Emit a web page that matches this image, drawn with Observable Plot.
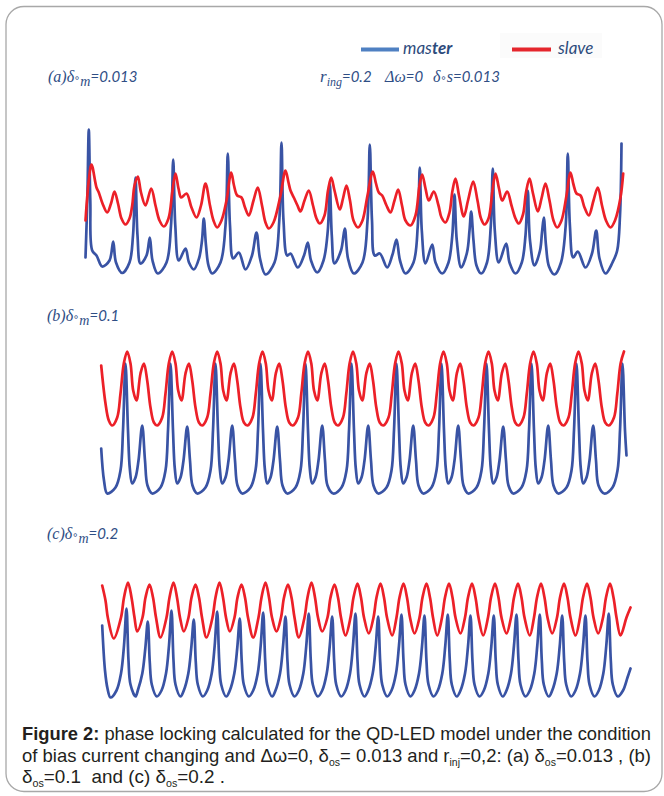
<!DOCTYPE html>
<html><head><meta charset="utf-8">
<script src="https://cdn.jsdelivr.net/npm/d3@7"></script>
<script src="https://cdn.jsdelivr.net/npm/@observablehq/plot@0.6"></script>
<style>
body{margin:0;background:#fff}
#fig{position:relative;width:664px;height:796px;overflow:hidden;background:#fff}
#deco{position:absolute;left:0;top:0}
.lbl{fill:#2f4e85;font-style:italic}
.ser{font-family:"Liberation Serif",serif}
.cal{font-family:Lato,"Open Sans",sans-serif}
.cap{font-family:"Liberation Sans",Arial,sans-serif;font-size:18.5px;fill:#231f20}
</style></head><body>
<div id="fig">
<svg id="deco" width="664" height="796" xmlns="http://www.w3.org/2000/svg">
<rect x="6" y="6.5" width="656" height="785" rx="18" fill="none" stroke="#a8a8a8" stroke-width="1.3"/>
<rect x="500" y="33" width="102" height="25" fill="#fbfbfb"/>
<rect x="361" y="47.5" width="38" height="4" fill="#4f80c2"/>
<text x="403" y="54" class="cal" font-style="italic" font-size="17" fill="#2d4b7c">mas<tspan font-weight="bold">ter</tspan></text>
<rect x="512" y="47.5" width="39" height="4" fill="#e5262d"/>
<text x="558" y="54" class="cal" font-style="italic" font-size="17" fill="#2d4b7c">slave</text>

<text x="48" y="82" class="lbl"><tspan class="ser" font-size="16">(a)δ</tspan><tspan font-size="10" dy="-1" font-family="DejaVu Sans">∘</tspan><tspan class="ser" font-size="14" dy="5">m</tspan><tspan class="cal" font-size="15" dy="-4">=0.013</tspan></text>
<text x="320" y="82" class="lbl"><tspan class="ser" font-size="17">r</tspan><tspan class="ser" font-size="12" dy="4">ing</tspan><tspan class="cal" font-size="15" dy="-4">=0.2</tspan></text>
<text x="385" y="82" class="lbl"><tspan class="ser" font-size="16">Δω</tspan><tspan class="cal" font-size="15">=0</tspan></text>
<text x="433" y="82" class="lbl"><tspan class="ser" font-size="16">δ</tspan><tspan font-size="10" dy="-1" font-family="DejaVu Sans">∘</tspan><tspan class="ser" font-size="16" dy="1">s</tspan><tspan class="cal" font-size="15">=0.013</tspan></text>

<text x="47" y="321" class="lbl"><tspan class="ser" font-size="16">(b)δ</tspan><tspan font-size="10" dy="-1" font-family="DejaVu Sans">∘</tspan><tspan class="ser" font-size="14" dy="5">m</tspan><tspan class="cal" font-size="15" dy="-4">=0.1</tspan></text>
<text x="47" y="539" class="lbl"><tspan class="ser" font-size="16">(c)δ</tspan><tspan font-size="10" dy="-1" font-family="DejaVu Sans">∘</tspan><tspan class="ser" font-size="14" dy="5">m</tspan><tspan class="cal" font-size="15" dy="-4">=0.2</tspan></text>

<text x="22" y="740" class="cap" textLength="629" lengthAdjust="spacingAndGlyphs"><tspan font-weight="bold">Figure 2:</tspan> phase locking calculated for the QD-LED model under the condition</text>
<text x="22" y="761.5" class="cap" textLength="629" lengthAdjust="spacingAndGlyphs">of bias current changing and Δω=0, δ<tspan font-size="10.5" dy="4">os</tspan><tspan dy="-4">= 0.013 and r</tspan><tspan font-size="10.5" dy="4">inj</tspan><tspan dy="-4">=0,2: (a) δ</tspan><tspan font-size="10.5" dy="4">os</tspan><tspan dy="-4">=0.013 , (b)</tspan></text>
<text x="22" y="783" class="cap" textLength="203" lengthAdjust="spacingAndGlyphs" xml:space="preserve">δ<tspan font-size="10.5" dy="4">os</tspan><tspan dy="-4">=0.1  and (c) δ</tspan><tspan font-size="10.5" dy="4">os</tspan><tspan dy="-4">=0.2 .</tspan></text>
</svg>
</div>
<script>
// series names and colours
const seriesNames = ["master", "slave"];
const seriesColors = ["#3953a4", "#ec2028"];

// Panel (a): δm = 0.013  — [time (a.u.), intensity (a.u.)]
const masterA = [[0,.28],[.36,.85],[.66,1.56],[.96,.85],[1.34,.35],[2.2,.30],[3.34,.19],[4.8,.25],[5.54,.44],[6.1,.23],[7.34,.125],[8.8,.23],[9.5,.50],[10.0,1.08],[10.4,.50],[11.0,.22],[12.2,.30],[12.86,.48],[13.4,.25],[14.46,.12],[16.2,.23],[17.1,.60],[17.54,1.26],[17.96,.60],[18.66,.25],[20.0,.37],[20.7,.23],[21.66,.16],[22.7,.27],[23.3,.45],[23.66,.67],[24.1,.40],[24.6,.20],[25.34,.12],[27.0,.23],[28.0,.60],[28.46,1.32],[28.9,.60],[29.54,.27],[30.66,.33],[32.0,.16],[33.3,.30],[34.2,.53],[34.9,.27],[36.0,.11],[37.8,.23],[38.76,.65],[39.2,1.43],[39.6,.65],[40.34,.30],[41.0,.32],[42.46,.18],[43.7,.30],[44.46,.43],[45.1,.25],[46.34,.13],[47.6,.25],[48.46,.55],[48.86,1.02],[49.26,.50],[49.8,.22],[51.1,.35],[51.86,.57],[52.5,.27],[53.66,.12],[55.4,.23],[56.4,.65],[56.86,1.41],[57.3,.65],[57.86,.30],[58.86,.32],[60.34,.18],[61.4,.31],[62.2,.46],[62.9,.25],[64.0,.12],[65.6,.23],[66.46,.60],[66.86,1.18],[67.26,.55],[68.0,.22],[69.34,.41],[70.0,.23],[71.34,.12],[72.6,.23],[73.36,.50],[73.8,.91],[74.26,.45],[75.14,.18],[76.3,.33],[76.8,.55],[77.14,.74],[77.6,.45],[78.2,.20],[79.14,.12],[80.3,.23],[81.06,.60],[81.46,1.17],[81.86,.55],[82.66,.23],[84.14,.42],[84.8,.23],[86.0,.12],[87.26,.23],[88.0,.50],[88.46,.95],[88.9,.45],[89.8,.20],[90.9,.35],[91.3,.53],[91.66,.68],[92.1,.40],[92.7,.19],[93.8,.11],[95.1,.23],[96.04,.60],[96.46,1.32],[96.88,.60],[97.54,.28],[98.46,.34],[100.0,.18],[101.3,.32],[102.14,.55],[102.8,.27],[104.0,.12],[105.4,.23],[106.34,.35],[106.9,.70],[107.2,1.42]];
const slaveA = [[0,.65],[.66,1.05],[1.2,1.21],[2.2,.98],[2.66,.93],[3.4,.82],[4.34,.73],[5.1,.82],[5.8,.94],[6.5,.82],[7.2,.67],[8.0,.61],[8.8,.67],[9.34,.80],[9.8,1.00],[10.46,1.09],[11.1,.93],[12.0,.80],[13.14,.97],[14.0,.80],[14.8,.65],[15.66,.59],[16.6,.67],[17.4,.95],[18.0,1.12],[18.6,.97],[19.14,.88],[20.2,.92],[21.2,.78],[22.2,.68],[23.1,.80],[24.0,1.02],[24.9,.80],[25.6,.65],[26.34,.58],[27.2,.65],[28.2,.85],[29.14,1.13],[29.7,1.00],[30.34,.90],[31.2,.88],[31.9,.78],[32.66,.70],[33.6,.85],[34.46,.98],[35.3,.80],[36.0,.63],[36.66,.57],[37.6,.63],[39.0,.90],[40.0,1.15],[40.6,1.03],[41.0,.95],[41.66,.88],[42.4,.80],[43.0,.74],[43.8,.85],[44.66,.95],[45.5,.80],[46.2,.67],[46.86,.62],[47.8,.70],[48.5,.95],[49.14,1.08],[49.8,.95],[50.86,.76],[51.5,.87],[52.2,1.00],[52.9,.85],[53.6,.65],[54.5,.58],[55.4,.65],[56.4,.90],[57.46,1.14],[58.1,1.02],[58.66,.93],[59.34,.90],[60.2,.80],[61.0,.73],[61.8,.85],[62.54,.96],[63.3,.80],[64.0,.65],[65.0,.60],[66.0,.70],[66.8,1.00],[67.34,1.11],[68.0,.97],[68.66,.85],[69.66,.94],[70.6,.80],[71.2,.68],[72.0,.63],[72.8,.73],[73.4,.95],[74.0,1.07],[74.7,.90],[75.66,.69],[76.5,.85],[77.54,1.04],[78.4,.85],[79.1,.67],[79.8,.61],[80.6,.67],[81.4,.95],[82.0,1.12],[82.7,.97],[83.34,.85],[84.34,.94],[85.2,.80],[86.0,.67],[86.66,.62],[87.5,.71],[88.1,.93],[88.8,1.07],[89.5,.92],[90.46,.74],[91.2,.87],[92.0,1.02],[92.8,.85],[93.6,.65],[94.34,.58],[95.2,.65],[96.2,.90],[97.0,1.13],[97.6,1.01],[98.2,.92],[99.0,.90],[99.8,.78],[100.66,.70],[101.6,.85],[102.46,.98],[103.3,.80],[104.1,.65],[105.0,.58],[105.9,.65],[107.0,.88],[107.54,1.12]];

// Panel (b): δm = 0.1
const masterB = [[3.14,.57],[3.7,.25],[4.34,.12],[6.0,.18],[7.0,.35],[7.5,.75],[8.0,1.42],[8.5,.75],[8.86,.37],[9.34,.22],[10.0,.28],[10.6,.45],[11.34,.80],[11.9,.45],[12.4,.20],[13.34,.12],[15.0,.18],[16.0,.35],[16.5,.75],[17.0,1.42],[17.5,.75],[17.86,.37],[18.34,.22],[19.0,.28],[19.6,.45],[20.34,.79],[20.9,.45],[21.4,.20],[22.34,.12],[24.0,.18],[25.0,.35],[25.5,.75],[26.0,1.42],[26.5,.75],[26.86,.37],[27.34,.22],[28.0,.28],[28.6,.45],[29.34,.80],[29.9,.45],[30.4,.20],[31.34,.12],[33.0,.18],[34.0,.35],[34.5,.75],[35.0,1.42],[35.5,.75],[35.86,.37],[36.34,.22],[37.0,.28],[37.6,.45],[38.34,.79],[38.9,.45],[39.4,.20],[40.34,.12],[42.0,.18],[43.0,.35],[43.5,.75],[44.0,1.42],[44.5,.75],[44.86,.37],[45.34,.22],[46.0,.28],[46.6,.45],[47.34,.80],[47.9,.45],[48.4,.20],[49.54,.12],[51.2,.18],[52.2,.35],[52.7,.75],[53.2,1.42],[53.7,.75],[54.06,.37],[54.54,.22],[55.2,.28],[55.8,.45],[56.54,.80],[57.1,.45],[57.6,.20],[58.54,.12],[60.2,.18],[61.2,.35],[61.7,.75],[62.2,1.42],[62.7,.75],[63.06,.37],[63.54,.22],[64.2,.28],[64.8,.45],[65.54,.80],[66.1,.45],[66.6,.20],[67.54,.12],[69.2,.18],[70.2,.35],[70.7,.75],[71.2,1.42],[71.7,.75],[72.06,.37],[72.54,.22],[73.2,.28],[73.8,.45],[74.54,.80],[75.1,.45],[75.6,.20],[76.54,.12],[78.2,.18],[79.2,.35],[79.7,.75],[80.2,1.42],[80.7,.75],[81.06,.37],[81.54,.22],[82.2,.28],[82.8,.45],[83.54,.79],[84.1,.45],[84.6,.20],[85.54,.12],[87.2,.18],[88.2,.35],[88.7,.75],[89.2,1.42],[89.7,.75],[90.06,.37],[90.54,.22],[91.2,.28],[91.8,.45],[92.54,.80],[93.1,.45],[93.6,.20],[94.54,.12],[96.2,.18],[97.2,.35],[97.7,.75],[98.2,1.42],[98.7,.75],[99.06,.37],[99.54,.22],[100.2,.28],[100.8,.45],[101.54,.80],[102.1,.45],[102.6,.20],[103.74,.12],[105.4,.18],[106.4,.35],[106.9,.75],[107.4,1.42],[107.9,.75],[108.2,.50]];
const slaveB = [[3.14,1.40],[4.0,1.02],[4.66,.85],[5.34,.80],[6.34,.88],[7.0,1.12],[7.66,1.42],[8.34,1.54],[9.0,1.42],[9.54,1.15],[10.2,1.05],[11.0,1.32],[11.68,1.42],[12.34,1.25],[13.0,.98],[13.68,.83],[14.34,.80],[15.34,.88],[16.0,1.12],[16.66,1.42],[17.34,1.54],[18.0,1.42],[18.54,1.15],[19.2,1.05],[20.0,1.32],[20.68,1.42],[21.34,1.25],[22.0,.98],[22.68,.83],[23.34,.80],[24.34,.88],[25.0,1.12],[25.66,1.42],[26.34,1.54],[27.0,1.42],[27.54,1.15],[28.2,1.05],[29.0,1.32],[29.68,1.42],[30.34,1.25],[31.0,.98],[31.68,.83],[32.4,.80],[33.4,.88],[34.06,1.12],[34.72,1.42],[35.4,1.54],[36.06,1.42],[36.6,1.15],[37.26,1.05],[38.06,1.32],[38.74,1.42],[39.4,1.25],[40.06,.98],[40.74,.83],[41.45,.80],[42.5,.88],[43.16,1.12],[43.82,1.42],[44.5,1.54],[45.16,1.42],[45.7,1.15],[46.36,1.05],[47.16,1.32],[47.84,1.42],[48.5,1.25],[49.16,.98],[49.84,.83],[50.5,.80],[51.5,.88],[52.16,1.12],[52.82,1.42],[53.5,1.54],[54.16,1.42],[54.7,1.15],[55.36,1.05],[56.16,1.32],[56.84,1.42],[57.5,1.25],[58.16,.98],[58.84,.83],[59.55,.80],[60.6,.88],[61.26,1.12],[61.92,1.42],[62.6,1.54],[63.26,1.42],[63.8,1.15],[64.46,1.05],[65.26,1.32],[65.94,1.42],[66.6,1.25],[67.26,.98],[67.94,.83],[68.6,.80],[69.6,.88],[70.26,1.12],[70.92,1.42],[71.6,1.54],[72.26,1.42],[72.8,1.15],[73.46,1.05],[74.26,1.32],[74.94,1.42],[75.6,1.25],[76.26,.98],[76.94,.83],[77.6,.80],[78.6,.88],[79.26,1.12],[79.92,1.42],[80.6,1.54],[81.26,1.42],[81.8,1.15],[82.46,1.05],[83.26,1.32],[83.94,1.42],[84.6,1.25],[85.26,.98],[85.94,.83],[86.6,.80],[87.6,.88],[88.26,1.12],[88.92,1.42],[89.6,1.54],[90.26,1.42],[90.8,1.15],[91.46,1.05],[92.26,1.32],[92.94,1.42],[93.6,1.25],[94.26,.98],[94.94,.83],[95.6,.80],[96.6,.88],[97.26,1.12],[97.92,1.42],[98.6,1.54],[99.26,1.42],[99.8,1.15],[100.46,1.05],[101.26,1.32],[101.94,1.42],[102.6,1.25],[103.26,.98],[103.94,.83],[104.65,.80],[105.7,.88],[106.36,1.12],[107.02,1.42],[107.7,1.54]];

// Panel (c): δm = 0.2
const masterC = [[3.34,.85],[3.9,.40],[4.4,.22],[5.0,.13],[6.2,.20],[7.1,.37],[7.7,.65],[8.2,1.02],[8.6,.50],[9.0,.26],[10.0,.14],[10.46,.20],[11.36,.37],[11.96,.62],[12.46,.89],[12.86,.48],[13.26,.26],[14.26,.14],[15.2,.20],[16.1,.37],[16.7,.65],[17.2,1.00],[17.6,.50],[18.0,.26],[19.0,.14],[19.66,.20],[20.56,.37],[21.16,.63],[21.66,.91],[22.06,.48],[22.46,.26],[23.46,.14],[24.34,.20],[25.24,.37],[25.84,.65],[26.34,.99],[26.74,.50],[27.14,.26],[28.14,.14],[28.86,.20],[29.76,.37],[30.36,.63],[30.86,.92],[31.26,.48],[31.66,.26],[32.66,.14],[33.54,.20],[34.44,.37],[35.04,.65],[35.54,.98],[35.94,.50],[36.34,.26],[37.34,.14],[38.0,.20],[38.9,.37],[39.5,.64],[40.0,.94],[40.4,.49],[40.8,.26],[41.8,.14],[42.66,.20],[43.56,.37],[44.16,.65],[44.66,.97],[45.06,.50],[45.46,.26],[46.46,.14],[47.34,.20],[48.24,.37],[48.84,.64],[49.34,.94],[49.74,.49],[50.14,.26],[51.14,.14],[52.0,.20],[52.9,.37],[53.5,.65],[54.0,.97],[54.4,.50],[54.8,.26],[55.8,.14],[56.54,.20],[57.44,.37],[58.04,.64],[58.54,.94],[58.94,.49],[59.34,.26],[60.34,.14],[61.2,.20],[62.1,.37],[62.7,.65],[63.2,.96],[63.6,.50],[64.0,.26],[65.0,.14],[65.8,.20],[66.7,.37],[67.3,.64],[67.8,.95],[68.2,.49],[68.6,.26],[69.6,.14],[70.46,.20],[71.36,.37],[71.96,.65],[72.46,.96],[72.86,.50],[73.26,.26],[74.26,.14],[75.0,.20],[75.9,.37],[76.5,.64],[77.0,.95],[77.4,.49],[77.8,.26],[78.8,.14],[79.66,.20],[80.56,.37],[81.16,.64],[81.66,.95],[82.06,.49],[82.46,.26],[83.46,.14],[84.2,.20],[85.1,.37],[85.7,.65],[86.2,.96],[86.6,.50],[87.0,.26],[88.0,.14],[88.86,.20],[89.76,.37],[90.36,.65],[90.86,.96],[91.26,.50],[91.66,.26],[92.66,.14],[93.34,.20],[94.24,.37],[94.84,.64],[95.34,.95],[95.74,.49],[96.14,.26],[97.14,.14],[98.0,.20],[98.9,.37],[99.5,.64],[100.0,.95],[100.4,.49],[100.8,.26],[101.8,.14],[102.66,.20],[103.56,.37],[104.16,.65],[104.66,.97],[105.06,.50],[105.46,.26],[106.46,.14],[107.5,.20],[108.4,.33],[109.0,.42]];
const slaveC = [[3.34,1.25],[4.0,1.10],[4.5,.92],[5.66,.72],[7.1,.93],[7.7,1.13],[8.5,1.28],[9.2,1.13],[9.8,.93],[10.34,.79],[11.4,.93],[12.0,1.13],[12.8,1.26],[13.5,1.13],[14.1,.93],[15.0,.73],[16.2,.93],[16.8,1.13],[17.6,1.28],[18.3,1.13],[18.9,.93],[19.66,.79],[20.6,.93],[21.2,1.13],[22.0,1.26],[22.7,1.13],[23.3,.93],[24.2,.73],[25.4,.93],[26.0,1.13],[26.8,1.28],[27.5,1.13],[28.1,.93],[28.86,.79],[29.8,.93],[30.4,1.13],[31.2,1.26],[31.9,1.13],[32.5,.93],[33.54,.73],[34.6,.93],[35.2,1.13],[36.0,1.28],[36.7,1.13],[37.3,.93],[38.2,.79],[39.1,.93],[39.7,1.13],[40.5,1.26],[41.2,1.13],[41.8,.93],[42.66,.73],[43.8,.93],[44.4,1.13],[45.2,1.28],[45.9,1.13],[46.5,.93],[47.34,.79],[48.4,.93],[49.0,1.13],[49.8,1.26],[50.5,1.13],[51.1,.93],[52.0,.75],[53.0,.93],[53.6,1.13],[54.4,1.27],[55.1,1.13],[55.7,.93],[56.66,.77],[57.6,.93],[58.2,1.13],[59.0,1.27],[59.7,1.13],[60.3,.93],[61.34,.75],[62.2,.93],[62.8,1.13],[63.6,1.27],[64.3,1.13],[64.9,.93],[65.8,.77],[66.8,.93],[67.4,1.13],[68.2,1.27],[68.9,1.13],[69.5,.93],[70.34,.75],[71.3,.93],[71.9,1.13],[72.7,1.27],[73.4,1.13],[74.0,.93],[75.0,.77],[75.9,.93],[76.5,1.13],[77.3,1.27],[78.0,1.13],[78.6,.93],[79.54,.75],[80.5,.93],[81.1,1.13],[81.9,1.27],[82.6,1.13],[83.2,.93],[84.2,.77],[85.1,.93],[85.7,1.13],[86.5,1.27],[87.2,1.13],[87.8,.93],[88.86,.75],[89.7,.93],[90.3,1.13],[91.1,1.27],[91.8,1.13],[92.4,.93],[93.34,.77],[94.3,.93],[94.9,1.13],[95.7,1.27],[96.4,1.13],[97.0,.93],[98.0,.75],[98.9,.93],[99.5,1.13],[100.3,1.27],[101.0,1.13],[101.6,.93],[102.54,.77],[103.5,.93],[104.1,1.13],[104.9,1.27],[105.6,1.13],[106.2,.93],[107.0,.75],[108.2,.93],[109.0,1.03]];

const fig = document.getElementById("fig");

function drawPanel(master, slave, top, height, yMax) {
  const rows = [
    ...master.map(([t, v]) => ({t, v, series: seriesNames[0]})),
    ...slave.map(([t, v]) => ({t, v, series: seriesNames[1]}))
  ];
  const chart = Plot.plot({
    width: 664, height,
    marginLeft: 85, marginRight: 29, marginTop: 0, marginBottom: 0,
    x: {domain: [0, 110], axis: null},
    y: {domain: [0, yMax], axis: null},
    color: {domain: seriesNames, range: seriesColors},
    style: {background: "transparent", overflow: "visible"},
    marks: [
      Plot.line(rows, {x: "t", y: "v", z: "series", stroke: "series", strokeWidth: 2.7, curve: "catmull-rom", strokeLinejoin: "round", strokeLinecap: "round"})
    ]
  });
  chart.style.position = "absolute";
  chart.style.left = "0px";
  chart.style.top = top + "px";
  fig.appendChild(chart);
}

drawPanel(masterA, slaveA, 110, 175, 1.75);
drawPanel(masterB, slaveB, 330, 175, 1.75);
drawPanel(masterC, slaveC, 560, 150, 1.5);
</script>
</body></html>
